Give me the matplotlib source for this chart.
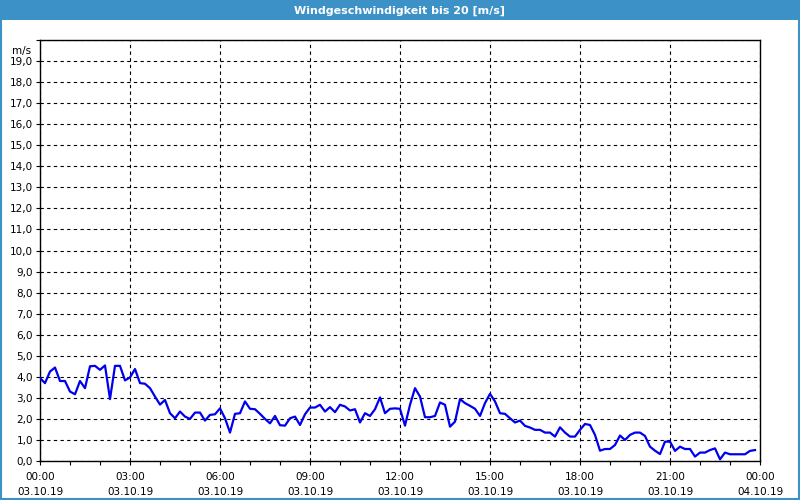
import matplotlib
matplotlib.use("Agg")
import matplotlib.pyplot as plt
from matplotlib.patches import Rectangle
import numpy as np

# Windgeschwindigkeit in m/s, alle 10 Minuten ab 03.10.19 00:00
wind = [3.94, 3.70, 4.25, 4.44, 3.80, 3.80, 3.30, 3.17, 3.80, 3.46,
        4.50, 4.52, 4.33, 4.54, 2.94, 4.52, 4.52, 3.83, 3.97, 4.37,
        3.70, 3.67, 3.46, 3.06, 2.68, 2.90, 2.27, 2.03, 2.35, 2.11,
        2.00, 2.30, 2.30, 1.92, 2.19, 2.22, 2.50, 2.03, 1.35, 2.24,
        2.27, 2.83, 2.48, 2.46, 2.24, 2.00, 1.79, 2.14, 1.70, 1.68,
        2.03, 2.11, 1.71, 2.22, 2.54, 2.54, 2.67, 2.35, 2.56, 2.32,
        2.67, 2.59, 2.40, 2.46, 1.83, 2.27, 2.14, 2.46, 3.02, 2.27,
        2.48, 2.50, 2.48, 1.68, 2.67, 3.46, 3.06, 2.08, 2.08, 2.14,
        2.78, 2.67, 1.63, 1.87, 2.94, 2.75, 2.62, 2.48, 2.14, 2.75,
        3.19, 2.83, 2.27, 2.24, 2.03, 1.83, 1.92, 1.67, 1.59, 1.48,
        1.48, 1.35, 1.35, 1.16, 1.60, 1.35, 1.16, 1.16, 1.48, 1.76,
        1.71, 1.24, 0.49, 0.57, 0.57, 0.76, 1.21, 1.00, 1.24, 1.35,
        1.35, 1.19, 0.68, 0.49, 0.33, 0.92, 0.92, 0.48, 0.68, 0.57,
        0.57, 0.21, 0.40, 0.40, 0.52, 0.60, 0.08, 0.40, 0.32, 0.32,
        0.32, 0.32, 0.48, 0.52]
interval_min = 10

tick_hours = [0, 3, 6, 9, 12, 15, 18, 21, 24]
tick_times = ["00:00", "03:00", "06:00", "09:00", "12:00", "15:00", "18:00", "21:00", "00:00"]
tick_dates = ["03.10.19"] * 8 + ["04.10.19"]

y_max = 20
title = "Windgeschwindigkeit bis 20 [m/s]"
unit = "m/s"

hours = np.arange(len(wind)) * interval_min / 60.0

plt.rcParams["font.family"] = ["DejaVu Sans"]

fig = plt.figure(figsize=(8, 5), dpi=100)
fig.patch.set_facecolor("white")

# Titelbalken und Rahmen
bar_col = "#3c91c7"
fig.patches.append(Rectangle((0, 0.96), 1, 0.04, transform=fig.transFigure,
                             facecolor=bar_col, edgecolor="none", zorder=0))
fig.patches.append(Rectangle((0.001, 0.002), 0.998, 0.997, transform=fig.transFigure,
                             facecolor="none", edgecolor=bar_col, linewidth=1.5, zorder=0))
fig.text(0.5, 0.979, title, color="white", ha="center", va="center",
         fontsize=8, fontweight="bold")

ax = fig.add_axes([0.05, 0.078, 0.90, 0.842])
ax.plot(hours, wind, color="#0000ee", linewidth=1.6, zorder=3)

ax.set_xlim(0, 24)
ax.set_ylim(0, y_max)

ax.set_yticks(np.arange(0, y_max + 1))
ylabels = ["%d,0" % v for v in range(0, y_max)] + [""]
ax.set_yticklabels(ylabels, fontsize=7.5)
ax.set_xticks(tick_hours)
ax.set_xticklabels([t + "\n" + d for t, d in zip(tick_times, tick_dates)],
                   fontsize=7.5, linespacing=1.6)
ax.set_xticks(np.arange(0, 25), minor=True)

ax.tick_params(axis="both", which="both", length=3, width=0.8, pad=2, direction="out")
ax.tick_params(axis="x", which="major", pad=5)

ax.grid(True, which="major", color="black", linestyle=(0, (3, 3)), linewidth=0.8)
for s in ax.spines.values():
    s.set_linewidth(1.0)
    s.set_color("black")

ax.text(-0.012, 0.985, unit, transform=ax.transAxes, ha="right", va="top", fontsize=7.5)

fig.savefig("out.png", dpi=100)
